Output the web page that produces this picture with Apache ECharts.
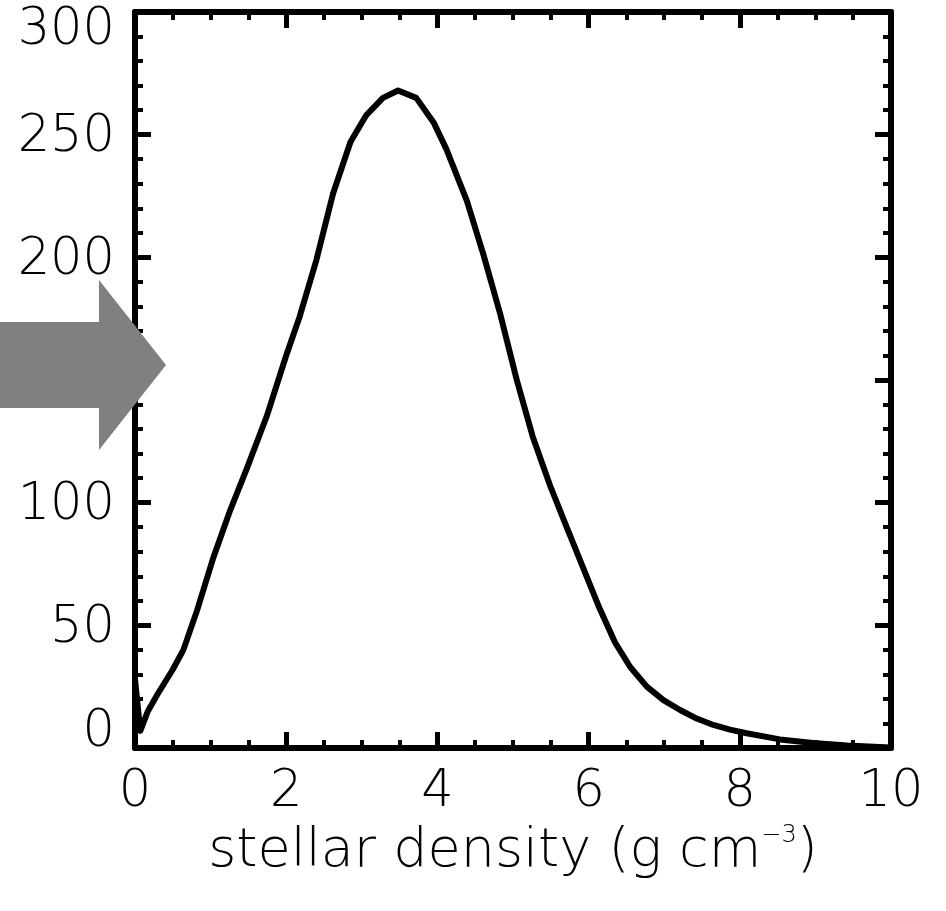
<!DOCTYPE html>
<html>
<head>
<meta charset="utf-8">
<script src="https://cdn.jsdelivr.net/npm/echarts@6/dist/echarts.min.js"></script>
<style>html,body{margin:0;padding:0;background:#fff;}#c{width:946px;height:911px;}</style>
</head>
<body>
<div id="c"></div>
<script>
// Data
const densityX = [0, 0.07, 0.17, 0.3, 0.5, 0.64, 0.82, 1.03, 1.26, 1.48, 1.74, 2.0, 2.18, 2.4, 2.62, 2.85, 3.06, 3.28, 3.48, 3.72, 3.95, 4.12, 4.39, 4.61, 4.83, 5.05, 5.26, 5.49, 5.71, 5.92, 6.13, 6.35, 6.55, 6.77, 6.99, 7.21, 7.43, 7.65, 7.87, 8.09, 8.53, 8.97, 9.42, 9.85, 10];
const countY   = [28, 7, 15, 22, 32, 40, 56, 77, 97, 114, 135, 160, 176, 199, 226, 247, 258, 265, 268, 265, 255, 244, 223, 201, 177, 150, 127, 107, 90, 74, 58, 43, 33, 25, 19.5, 15.5, 12, 9.4, 7.5, 6, 3.5, 2, 1, 0.4, 0.2];
const xTicks = [0, 2, 4, 6, 8, 10];
const yTicks = [0, 50, 100, 150, 200, 250, 300];

const chart = echarts.init(document.getElementById('c'), null, {renderer: 'canvas'});
const font = "'DejaVu Sans Light', 'DejaVu Sans ExtraLight', 'DejaVu Sans'";
const axisLine = {show: true, onZero: false, lineStyle: {color: '#000', width: 6}};
const tick = (len) => ({show: true, inside: true, length: len, lineStyle: {color: '#000', width: 5}});
const minor = (n) => ({show: true, splitNumber: n, length: 8, lineStyle: {color: '#000', width: 4}});

const pts = densityX.map((x, i) => [x, countY[i]]);
const lbl = {color: '#000', fontFamily: font, fontSize: 51, fontWeight: 200};

chart.setOption({
  animation: false,
  backgroundColor: '#fff',
  grid: {left: 135, top: 12, right: 55, bottom: 163, containLabel: false, outerBoundsMode: 'none'},
  xAxis: [{
    type: 'value', min: xTicks[0], max: xTicks[xTicks.length - 1], interval: 2, position: 'bottom',
    axisLine: axisLine, axisTick: tick(16), minorTick: minor(4), splitLine: {show: false},
    axisLabel: Object.assign({margin: 19}, lbl),
    name: 'stellar density (g cm{sup|−3})', nameLocation: 'middle', nameGap: 76,
    nameTextStyle: Object.assign({}, lbl, {fontSize: 54,
      rich: {sup: {fontFamily: font, fontWeight: 200, fontSize: 24, verticalAlign: 'top', padding: [0, 0, 32, 0], color: '#000'}}})
  }, {
    type: 'value', min: 0, max: 10, interval: 2, position: 'top',
    axisLine: axisLine, axisTick: tick(16), minorTick: minor(4), splitLine: {show: false},
    axisLabel: {show: false}
  }],
  yAxis: [{
    type: 'value', min: yTicks[0], max: yTicks[yTicks.length - 1], interval: 50, position: 'left',
    axisLine: axisLine, axisTick: tick(16), minorTick: minor(5), splitLine: {show: false},
    axisLabel: Object.assign({margin: 20,
      formatter: (v) => v === 300 ? '{top|' + v + '}' : (v === 0 ? '{bot|' + v + '}' : '{mid|' + v + '}'),
      rich: {
        top: Object.assign({}, lbl, {padding: [38, 0, 0, 0]}),
        bot: Object.assign({}, lbl, {padding: [0, 0, 30, 0]}),
        mid: Object.assign({}, lbl, {padding: [6, 0, 0, 0]})
      }}, lbl)
  }, {
    type: 'value', min: 0, max: 300, interval: 50, position: 'right',
    axisLine: axisLine, axisTick: tick(16), minorTick: minor(5), splitLine: {show: false},
    axisLabel: {show: false}
  }],
  series: [{
    type: 'line', data: pts, xAxisIndex: 0, yAxisIndex: 0,
    showSymbol: false, smooth: false, lineStyle: {color: '#000', width: 6, join: 'round'}, z: 3
  }],
  graphic: [{
    type: 'polygon', z: 100,
    shape: {points: [[0, 322], [99, 322], [99, 280], [166, 365], [99, 450], [99, 408], [0, 408]]},
    style: {fill: '#808080'}
  }]
});
</script>
</body>
</html>
